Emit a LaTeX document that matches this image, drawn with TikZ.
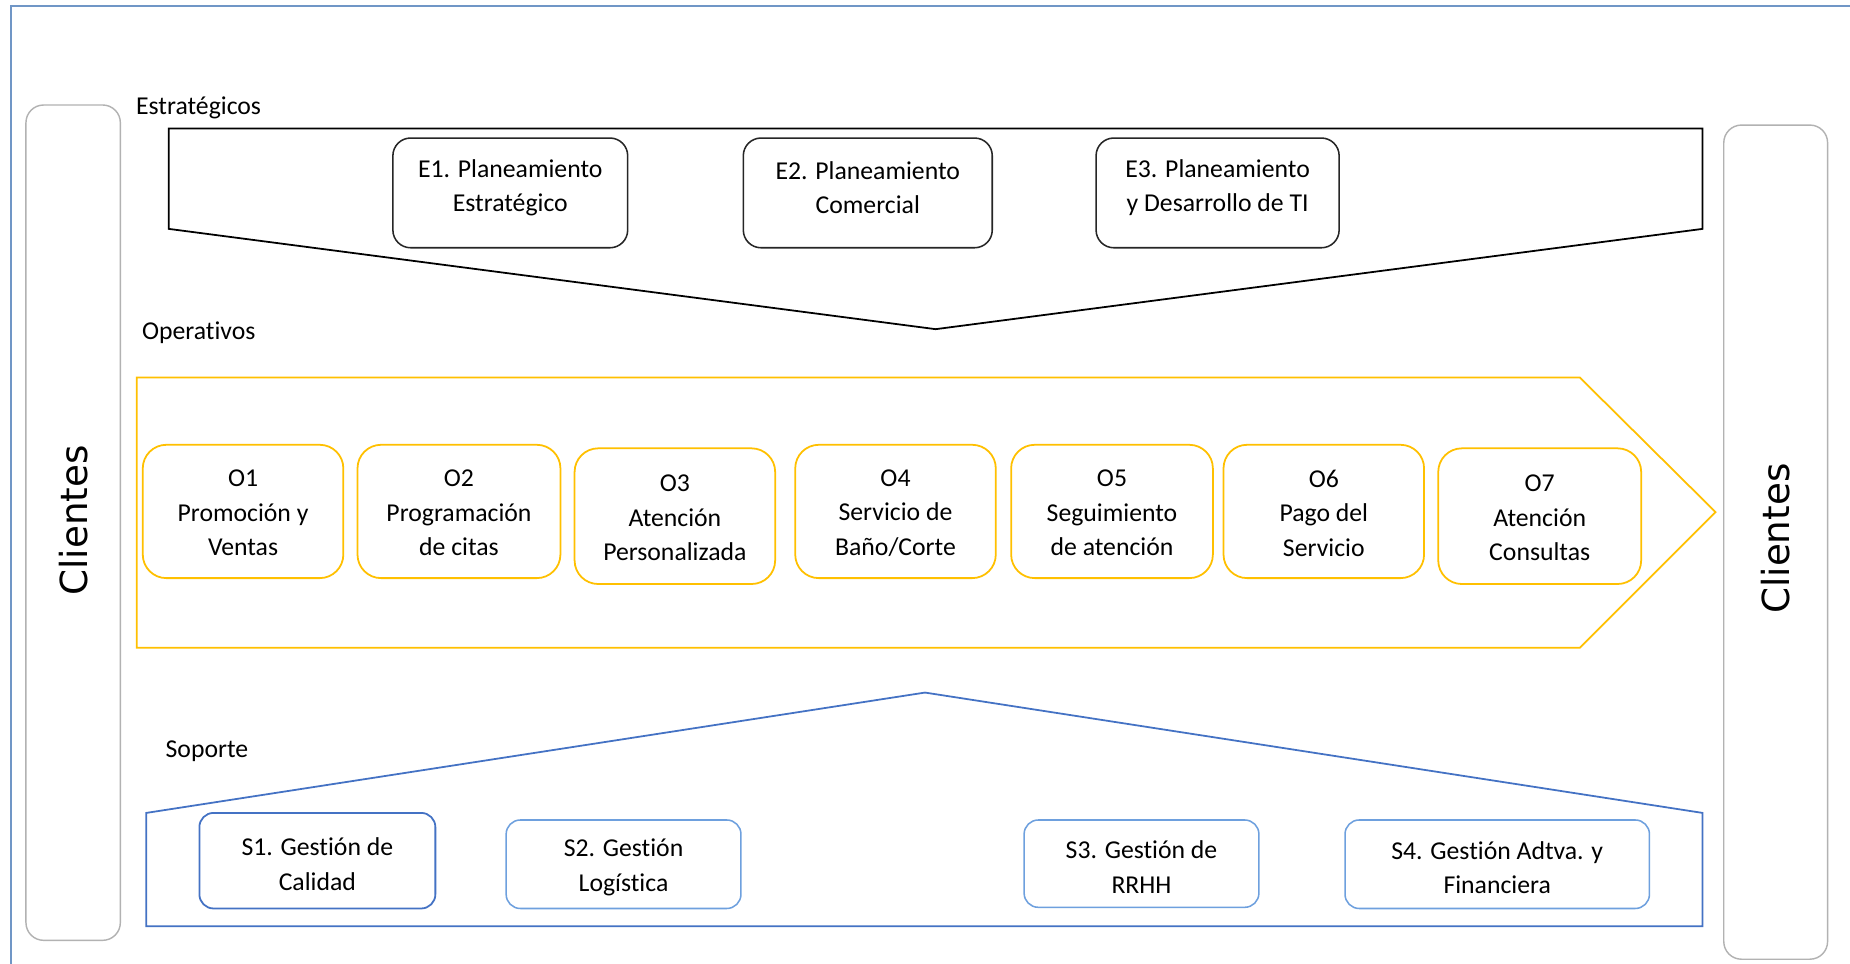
\documentclass[tikz,border=0pt]{standalone}
\usepackage{fontspec}
\setmainfont[Ligatures={NoCommon}]{Carlito}
\newfontfamily\cliefont{DejaVu Sans}
\usetikzlibrary{fit}
\definecolor{frameblue}{RGB}{112,150,198}
\definecolor{ogold}{RGB}{255,192,0}
\definecolor{sblue}{RGB}{68,114,196}
\definecolor{sblue2}{RGB}{110,160,222}
\definecolor{cgray}{RGB}{178,178,178}
\definecolor{edark}{RGB}{38,38,38}
\begin{document}
\begin{tikzpicture}[x=0.5pt,y=-0.5pt,
  txt/.style={align=center,font=\fontsize{10.9}{14.6}\selectfont,inner sep=0pt},
  lbl/.style={anchor=base west,font=\fontsize{10.9}{13}\selectfont,inner sep=0pt},
  clibox/.style={draw=cgray,line width=0.6pt,rounded corners=7.5pt,inner sep=0pt},
  clitext/.style={rotate=90,font=\cliefont\fontsize{15.8}{18}\selectfont,inner sep=0pt},
  ebox/.style={draw=edark,line width=0.65pt,rounded corners=7.5pt,inner sep=0pt},
  obox/.style={draw=ogold,line width=0.75pt,rounded corners=10pt,inner sep=0pt},
  sbox/.style={draw=sblue2,line width=0.65pt,rounded corners=6pt,inner sep=0pt},
  sboxd/.style={draw=sblue,line width=0.75pt,rounded corners=6pt,inner sep=0pt},
  etxt/.style={txt,yshift=2.2pt},
  otxt/.style={txt,yshift=-0.7pt},
  stxt/.style={txt,yshift=-1.4pt},
  stratshape/.style={draw=black,line width=0.75pt,line join=miter},
  opshape/.style={draw=ogold,line width=0.75pt,line join=miter},
  supshape/.style={draw=sblue,line width=0.75pt,line join=miter}]
\useasboundingbox (0,0) rectangle (1568,817);
\fill[white] (0,0) rectangle (1568,817);
% outer frame (only left and top visible)
\draw[frameblue,line width=0.75pt] (9,830) -- (9,5) -- (1580,5);
% Clientes
\node[clibox,fit={(22,89) (102,797)}] (cl) {};
\node[clitext] (clt) at ([yshift=1pt]cl.center) {Clientes};
\node[clibox,fit={(1461,106) (1549,813)}] (cr) {};
\node[clitext] (crt) at ([yshift=1.5pt]cr.center) {Clientes};
% Estrategicos
\node[lbl] (lest) at (115,97) {Estratégicos};
\draw[stratshape] (143,109) -- (1443,109) -- (1443,194) -- (793,279) -- (143,194) -- cycle;
\node[ebox,fit={(333,117) (532,210)}] (e1) {};
\node[etxt] (e1t) at (e1.center) {E1. Planeamiento\\Estratégico};
\node[ebox,fit={(630,117) (841,210)}] (e2) {};
\node[etxt] (e2t) at (e2.center) {E2. Planeamiento\\Comercial};
\node[ebox,fit={(929,117) (1135,210)}] (e3) {};
\node[etxt] (e3t) at (e3.center) {E3. Planeamiento\\y Desarrollo de TI};
% Operativos
\node[lbl] (lop) at (120,288) {Operativos};
\draw[opshape] (116,320) -- (1339,320) -- (1454,434) -- (1339,549) -- (116,549) -- cycle;
\node[obox,fit={(121,377) (291,490)}] (o1) {};
\node[otxt] (o1t) at (o1.center) {O1\\Promoción y\\Ventas};
\node[obox,fit={(303,377) (475,490)}] (o2) {};
\node[otxt] (o2t) at (o2.center) {O2\\Programación\\de citas};
\node[obox,fit={(487,380) (657,495)}] (o3) {};
\node[otxt] (o3t) at (o3.center) {O3\\Atención\\Personalizada};
\node[obox,fit={(674,377) (844,490)}] (o4) {};
\node[otxt] (o4t) at (o4.center) {O4\\Servicio de\\Baño/Corte};
\node[obox,fit={(857,377) (1028,490)}] (o5) {};
\node[otxt] (o5t) at (o5.center) {O5\\Seguimiento\\de atención};
\node[obox,fit={(1037,377) (1207,490)}] (o6) {};
\node[otxt] (o6t) at (o6.center) {O6\\Pago del\\Servicio};
\node[obox,fit={(1219,380) (1391,495)}] (o7) {};
\node[otxt] (o7t) at (o7.center) {O7\\Atención\\Consultas};
% Soporte
\node[lbl] (lsop) at (140,642) {Soporte};
\draw[supshape] (124,689) -- (784,587) -- (1443,689) -- (1443,785) -- (124,785) -- cycle;
\node[sboxd,fit={(169,689) (369,770)}] (s1) {};
\node[stxt] (s1t) at (s1.center) {S1. Gestión de\\Calidad};
\node[sbox,fit={(429,695) (628,770)}] (s2) {};
\node[stxt] (s2t) at (s2.center) {S2. Gestión\\Logística};
\node[sbox,fit={(868,695) (1067,769)}] (s3) {};
\node[stxt] (s3t) at (s3.center) {S3. Gestión de\\RRHH};
\node[sbox,fit={(1140,695) (1398,770)}] (s4) {};
\node[stxt] (s4t) at (s4.center) {S4. Gestión Adtva. y\\Financiera};
\end{tikzpicture}
\end{document}
